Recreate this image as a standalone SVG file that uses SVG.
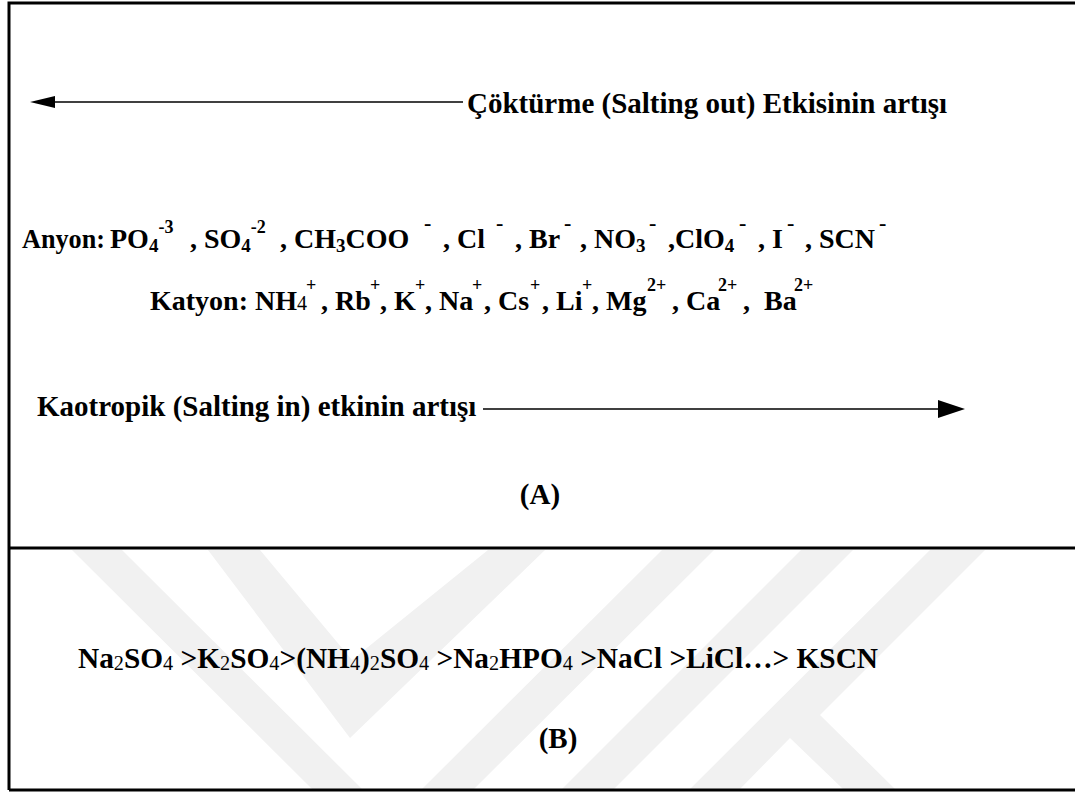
<svg xmlns="http://www.w3.org/2000/svg" width="1075" height="792" viewBox="0 0 1075 792">
<style>
  .t { font-family: "Liberation Serif", "Times New Roman", serif; font-weight: bold; font-size: 29px; fill: #000; white-space: pre; }
  .m { font-size: 28px; }
  .sub { font-size: 19px; }
  .subn { font-size: 20px; font-weight: normal; }
  .sup { font-size: 18px; }
  .neg { font-size: 22px; }
  .frame { stroke: #000; stroke-width: 3; fill: none; }
  .conn { stroke: #000; stroke-width: 1.6; fill: none; }
  .head { fill: #000; }
  .wm { fill: #f1f1f1; }
</style>
<rect width="1075" height="792" fill="#fff"/>
<g id="watermark">
  <polygon class="wm" points="72,550 122,550 362,789 312,789"/>
  <polygon class="wm" points="208,550 260,550 352,660 488,550 545,550 350,738"/>
  <polygon class="wm" points="662,550 714,550 474,789 422,789"/>
  <polygon class="wm" points="801,550 853,550 614,789 562,789"/>
  <polygon class="wm" points="930,550 985,550 820,715 895,789 843,789 790,738 740,789 690,789"/>
</g>
<g id="frame">
  <path class="frame" d="M9,790 V3 H1075"/>
  <line class="frame" x1="9" y1="548" x2="1075" y2="548"/>
  <line class="frame" x1="9" y1="790" x2="1075" y2="790"/>
</g>
<g id="connectors">
  <line class="conn" x1="463" y1="102" x2="50" y2="102"/>
  <polygon class="head" points="30,102 55,96 55,108"/>
  <line class="conn" x1="483" y1="409" x2="942" y2="409"/>
  <polygon class="head" points="965,409 938,400 938,418"/>
</g>
<g id="salting-out-label">
  <text class="t" x="467" y="113">Çöktürme (Salting out) Etkisinin artışı</text>
</g>
<g id="anyon">
  <text class="t m" x="22" y="248" textLength="83" lengthAdjust="spacingAndGlyphs">Anyon:</text>
  <text class="t m" x="110" y="248">PO<tspan class="sub" dy="4">4</tspan><tspan class="sup" dy="-19">-3</tspan></text>
  <text class="t m" x="190" y="248">, SO<tspan class="sub" dy="4">4</tspan><tspan class="sup" dy="-19">-2</tspan></text>
  <text class="t m" x="280" y="248">, CH<tspan class="sub" dy="4">3</tspan><tspan dy="-4">COO</tspan></text>
  <text class="t neg" x="424" y="230">-</text>
  <text class="t m" x="443" y="248">, Cl</text>
  <text class="t neg" x="496" y="230">-</text>
  <text class="t m" x="515" y="248">, Br</text>
  <text class="t neg" x="564" y="230">-</text>
  <text class="t m" x="580" y="248">, NO<tspan class="sub" dy="4">3</tspan></text>
  <text class="t neg" x="649" y="230">-</text>
  <text class="t m" x="668" y="248">,ClO<tspan class="sub" dy="4">4</tspan></text>
  <text class="t neg" x="739" y="230">-</text>
  <text class="t m" x="758" y="248">, I</text>
  <text class="t neg" x="787" y="230">-</text>
  <text class="t m" x="805" y="248">, SCN</text>
  <text class="t neg" x="879" y="230">-</text>
</g>
<g id="katyon">
  <text class="t m" x="150" y="310">Katyon: NH<tspan class="subn">4</tspan></text>
  <text class="t sup" x="306" y="291">+</text>
  <text class="t m" x="321" y="310">, Rb</text>
  <text class="t sup" x="370" y="291">+</text>
  <text class="t m" x="380" y="310">, K</text>
  <text class="t sup" x="415" y="291">+</text>
  <text class="t m" x="425" y="310">, Na</text>
  <text class="t sup" x="472" y="291">+</text>
  <text class="t m" x="484" y="310">, Cs</text>
  <text class="t sup" x="530" y="291">+</text>
  <text class="t m" x="542" y="310">, Li</text>
  <text class="t sup" x="582" y="291">+</text>
  <text class="t m" x="592" y="310">, Mg</text>
  <text class="t sup" x="647" y="291">2+</text>
  <text class="t m" x="672" y="310">, Ca</text>
  <text class="t sup" x="718" y="291">2+</text>
  <text class="t m" x="743" y="310">,  Ba</text>
  <text class="t sup" x="794" y="291">2+</text>
</g>
<g id="salting-in-label">
  <text class="t" x="37" y="416">Kaotropik (Salting in) etkinin artışı</text>
</g>
<g id="label-a">
  <text class="t" x="540" y="504" text-anchor="middle">(A)</text>
</g>
<g id="formula">
  <text class="t" x="78" y="668" textLength="800" lengthAdjust="spacingAndGlyphs">Na<tspan class="subn" dy="2">2</tspan><tspan dy="-2">SO</tspan><tspan class="subn" dy="2">4</tspan><tspan dy="-2"> &gt;K</tspan><tspan class="subn" dy="2">2</tspan><tspan dy="-2">SO</tspan><tspan class="subn" dy="2">4</tspan><tspan dy="-2">&gt;(NH</tspan><tspan class="subn" dy="2">4</tspan><tspan dy="-2">)</tspan><tspan class="subn" dy="2">2</tspan><tspan dy="-2">SO</tspan><tspan class="subn" dy="2">4</tspan><tspan dy="-2"> &gt;Na</tspan><tspan class="subn" dy="2">2</tspan><tspan dy="-2">HPO</tspan><tspan class="subn" dy="2">4</tspan><tspan dy="-2"> &gt;NaCl &gt;LiCl…&gt; KSCN</tspan></text>
</g>
<g id="label-b">
  <text class="t" x="558" y="748" text-anchor="middle">(B)</text>
</g>
</svg>
